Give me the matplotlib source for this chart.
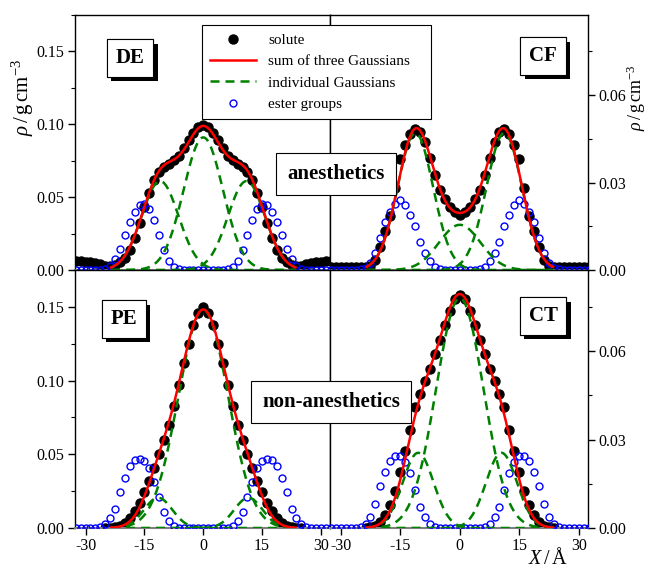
import numpy as np
import matplotlib
matplotlib.use("Agg")
import matplotlib.pyplot as plt
import matplotlib.patheffects as pe
from matplotlib.ticker import MultipleLocator, FormatStrFormatter

plt.rcParams['font.family'] = ['Liberation Serif', 'DejaVu Serif']
plt.rcParams['mathtext.fontset'] = 'custom'
plt.rcParams['mathtext.rm'] = 'Liberation Serif'
plt.rcParams['mathtext.it'] = 'Liberation Serif:italic'
plt.rcParams['axes.unicode_minus'] = False

# sampling grid of the density profiles (Angstrom)
X = np.linspace(-32.5, 32.5, 53)
nan = np.nan

# ---- DE (anesthetic) ----
DE_SOLUTE = [0.006, 0.006, 0.0057, 0.0053, 0.0048, 0.004, 0.003, 0.0025, 0.0035, 0.0055,
             0.008, 0.0137, 0.022, 0.032, 0.0435, 0.053, 0.0615, 0.067, 0.0705, 0.073,
             0.0755, 0.0785, 0.084, 0.089, 0.094, 0.098, 0.0995, 0.098, 0.094, 0.089,
             0.084, 0.0785, 0.0755, 0.073, 0.0705, 0.067, 0.0615, 0.053, 0.0435, 0.032,
             0.022, 0.0137, 0.008, 0.0055, 0.0035, 0.0025, 0.003, 0.004, 0.0048, 0.0053,
             0.0057, 0.006, 0.006]
DE_ESTER = [0, 0, 0, 0, 0, 0.0003, 0.001, 0.003, 0.0075, 0.0145,
            0.024, 0.033, 0.040, 0.0445, 0.045, 0.042, 0.034, 0.024, 0.014, 0.0065,
            0.002, 0.0005, 0, 0, 0, 0, 0, 0, 0, 0,
            0, 0.0005, 0.002, 0.0065, 0.014, 0.024, 0.034, 0.042, 0.045, 0.0445,
            0.040, 0.033, 0.024, 0.0145, 0.0075, 0.003, 0.001, 0.0003, 0, 0,
            0, 0, 0]
DE_AMP = [0.061, 0.091, 0.061]
DE_CEN = [-11.0, 0.0, 11.0]
DE_WID = [4.7, 5.0, 4.7]

# ---- CF (anesthetic) ----
CF_SOLUTE = [0.001, 0.001, 0.001, 0.001, 0.001, 0.001, 0.001, 0.001, 0.0015, 0.0035,
             0.008, 0.0135, 0.0185, 0.028, 0.038, 0.043, 0.0465, 0.0485, 0.0475, 0.044,
             0.0385, 0.0325, 0.0275, 0.0245, 0.0215, 0.0198, 0.019, 0.0198, 0.0215, 0.0245,
             0.0275, 0.0325, 0.0385, 0.044, 0.0475, 0.0485, 0.0465, 0.043, 0.038, 0.028,
             0.0185, 0.0135, 0.008, 0.0035, 0.0015, 0.001, 0.001, 0.001, 0.001, 0.001,
             0.001, 0.001, 0.001]
CF_ESTER = [0, 0, 0, 0, 0, 0, 0.0003, 0.0008, 0.0025, 0.0058,
            0.011, 0.0165, 0.020, 0.0228, 0.024, 0.0224, 0.019, 0.015, 0.0097, 0.006,
            0.003, 0.0012, 0.0004, 0, 0, 0, 0, 0, 0, 0,
            0.0004, 0.0012, 0.003, 0.006, 0.0097, 0.015, 0.019, 0.0224, 0.024, 0.0228,
            0.020, 0.0165, 0.011, 0.0058, 0.0025, 0.0008, 0.0003, 0, 0, 0,
            0, 0, 0]
CF_AMP = [0.047, 0.0155, 0.047]
CF_CEN = [-11.2, 0.0, 11.2]
CF_WID = [4.47, 5.24, 4.47]

# ---- PE (non-anesthetic) ----
PE_SOLUTE = [nan, nan, nan, nan, nan, nan, 0.0001, 0.0002, 0.0005, 0.0013,
             0.0033, 0.0068, 0.0115, 0.017, 0.0245, 0.032, 0.041, 0.050, 0.060, 0.070,
             0.083, 0.097, 0.112, 0.125, 0.138, 0.146, 0.150, 0.146, 0.138, 0.125,
             0.112, 0.097, 0.083, 0.070, 0.060, 0.050, 0.041, 0.032, 0.0245, 0.017,
             0.0115, 0.0068, 0.0033, 0.0013, 0.0005, 0.0002, 0.0001, nan, nan, nan,
             nan, nan, nan]
PE_ESTER = [0, 0, 0, 0, 0, 0.0007, 0.0025, 0.0065, 0.013, 0.0245,
            0.034, 0.042, 0.046, 0.047, 0.0455, 0.0405, 0.031, 0.021, 0.011, 0.005,
            0.0015, 0, 0, 0, 0, 0, 0, 0, 0, 0,
            0, 0, 0.0015, 0.005, 0.011, 0.021, 0.031, 0.0405, 0.0455, 0.047,
            0.046, 0.042, 0.034, 0.0245, 0.013, 0.0065, 0.0025, 0.0007, 0, 0,
            0, 0, 0]
PE_AMP = [0.0205, 0.148, 0.0205]
PE_CEN = [-11.5, 0.0, 11.5]
PE_WID = [3.6, 6.32, 3.6]

# ---- CT (non-anesthetic) ----
CT_SOLUTE = [nan, nan, nan, nan, nan, nan, nan, 0.0001, 0.0003, 0.0008,
             0.0022, 0.0045, 0.0078, 0.0125, 0.019, 0.026, 0.0333, 0.041, 0.0455, 0.050,
             0.054, 0.059, 0.0637, 0.069, 0.0737, 0.0775, 0.079, 0.0775, 0.0737, 0.069,
             0.0637, 0.059, 0.054, 0.050, 0.0455, 0.041, 0.0333, 0.026, 0.019, 0.0125,
             0.0078, 0.0045, 0.0022, 0.0008, 0.0003, 0.0001, nan, nan, nan, nan,
             nan, nan, nan]
CT_ESTER = [0, 0, 0, 0, 0, 0, 0.0004, 0.0014, 0.0038, 0.008,
            0.0142, 0.019, 0.0226, 0.0245, 0.0245, 0.0225, 0.0185, 0.013, 0.007, 0.0037,
            0.0012, 0.0004, 0, 0, 0, 0, 0, 0, 0, 0,
            0, 0.0004, 0.0012, 0.0037, 0.007, 0.013, 0.0185, 0.0225, 0.0245, 0.0245,
            0.0226, 0.019, 0.0142, 0.008, 0.0038, 0.0014, 0.0004, 0, 0, 0,
            0, 0, 0]
CT_AMP = [0.0255, 0.078, 0.0255]
CT_CEN = [-10.5, 0.0, 10.5]
CT_WID = [3.9, 5.96, 3.9]

FIT_RANGE = (-23.5, 23.5)


def gauss(x, a, c, w):
    return a * np.exp(-(x - c) ** 2 / (2 * w ** 2))


def draw_panel(ax, solute, ester, amp, cen, wid):
    xf = np.linspace(FIT_RANGE[0], FIT_RANGE[1], 400)
    h_sol, = ax.plot(X, solute, 'o', color='black', ms=6.5, zorder=2, label='solute')
    h_est, = ax.plot(X, ester, 'o', mfc='none', mec='#0000ff', mew=1.0, ms=5,
                     zorder=3, label='ester groups')
    total = np.zeros_like(xf)
    for a, c, w in zip(amp, cen, wid):
        g = gauss(xf, a, c, w)
        total += g
        h_ind, = ax.plot(xf, g, color='#008000', lw=1.8, dashes=(3.6, 2.4),
                         zorder=4, label='individual Gaussians')
    h_sum, = ax.plot(xf, total, color='#ff0000', lw=1.8, zorder=5,
                     label='sum of three Gaussians')
    return [h_sol, h_sum, h_ind, h_est]


def boxed(ax, x, y, s):
    t = ax.text(x, y, s, transform=ax.transAxes, ha='center', va='center',
                fontsize=15, fontweight='bold', zorder=10,
                bbox=dict(boxstyle='square,pad=0.42', fc='white', ec='black', lw=0.8))
    t.get_bbox_patch().set_path_effects(
        [pe.withSimplePatchShadow(offset=(3.2, -3.2), shadow_rgbFace='black', alpha=1.0),
         pe.Normal()])


fig = plt.figure(figsize=(6.48, 5.69), dpi=100)
L, M, R = 75 / 648, 330 / 648, 588 / 648
B, C, T = 1 - 528 / 569, 1 - 270 / 569, 1 - 15 / 569
ax_de = fig.add_axes([L, C, M - L, T - C])
ax_cf = fig.add_axes([M, C, R - M, T - C])
ax_pe = fig.add_axes([L, B, M - L, C - B])
ax_ct = fig.add_axes([M, B, R - M, C - B])

handles = draw_panel(ax_de, DE_SOLUTE, DE_ESTER, DE_AMP, DE_CEN, DE_WID)
draw_panel(ax_cf, CF_SOLUTE, CF_ESTER, CF_AMP, CF_CEN, CF_WID)
draw_panel(ax_pe, PE_SOLUTE, PE_ESTER, PE_AMP, PE_CEN, PE_WID)
draw_panel(ax_ct, CT_SOLUTE, CT_ESTER, CT_AMP, CT_CEN, CT_WID)

for ax in (ax_de, ax_cf, ax_pe, ax_ct):
    ax.set_xlim(-32.7, 32.3)
    for sp in ax.spines.values():
        sp.set_linewidth(1.0)
    ax.spines['bottom'].set_color('#7f7f7f')
    ax.spines['bottom'].set_linewidth(1.5)
    ax.tick_params(which='major', direction='out', length=5, width=1, labelsize=11.5, pad=2.5)
    ax.tick_params(which='minor', direction='out', length=3, width=0.8)
    ax.xaxis.set_major_locator(MultipleLocator(15))

for ax in (ax_de, ax_pe):
    ax.set_ylim(0, 0.175)
    ax.yaxis.set_major_locator(MultipleLocator(0.05))
    ax.yaxis.set_minor_locator(MultipleLocator(0.025))
    ax.yaxis.set_major_formatter(FormatStrFormatter('%.2f'))

for ax in (ax_cf, ax_ct):
    ax.set_ylim(0, 0.0875)
    ax.yaxis.tick_right()
    ax.yaxis.set_major_locator(MultipleLocator(0.03))
    ax.yaxis.set_minor_locator(MultipleLocator(0.015))
    ax.yaxis.set_major_formatter(FormatStrFormatter('%.2f'))

for ax in (ax_de, ax_cf):
    ax.tick_params(axis='x', which='both', bottom=False, labelbottom=False)

boxed(ax_de, 0.216, 0.831, 'DE')
boxed(ax_cf, 0.826, 0.839, 'CF')
boxed(ax_pe, 0.192, 0.810, 'PE')
boxed(ax_ct, 0.826, 0.822, 'CT')

for s, (fx, fy) in [('anesthetics', (336 / 648, 1 - 174 / 569)),
                    ('non-anesthetics', (331 / 648, 1 - 402 / 569))]:
    fig.text(fx, fy, s, ha='center', va='center', fontsize=15, fontweight='bold', zorder=10,
             bbox=dict(boxstyle='square,pad=0.55', fc='white', ec='black', lw=0.8))

leg = fig.legend(handles, [h.get_label() for h in handles], loc='upper left',
                 bbox_to_anchor=(202 / 648, 1 - 118 / 569, 229 / 648, 93 / 569),
                 mode='expand', fontsize=11, frameon=True,
                 fancybox=False, edgecolor='black', framealpha=1, handlelength=3.0,
                 labelspacing=0.5, borderaxespad=0, borderpad=0.55, numpoints=1)
leg.get_frame().set_linewidth(0.8)

ylab = r'$\rho\,/\,\mathrm{g\,cm}^{-3}$'
fig.text(23 / 648, 1 - 98 / 569, ylab, rotation=90, ha='center', va='center', fontsize=15)
fig.text(636.5 / 648, 1 - 98 / 569, ylab, rotation=90, ha='center', va='center', fontsize=13)
fig.text(548 / 648, 1 - 564 / 569, r'$X\,/\,$Å', ha='center', va='baseline', fontsize=14.5)

fig.savefig('out.png', dpi=100)
